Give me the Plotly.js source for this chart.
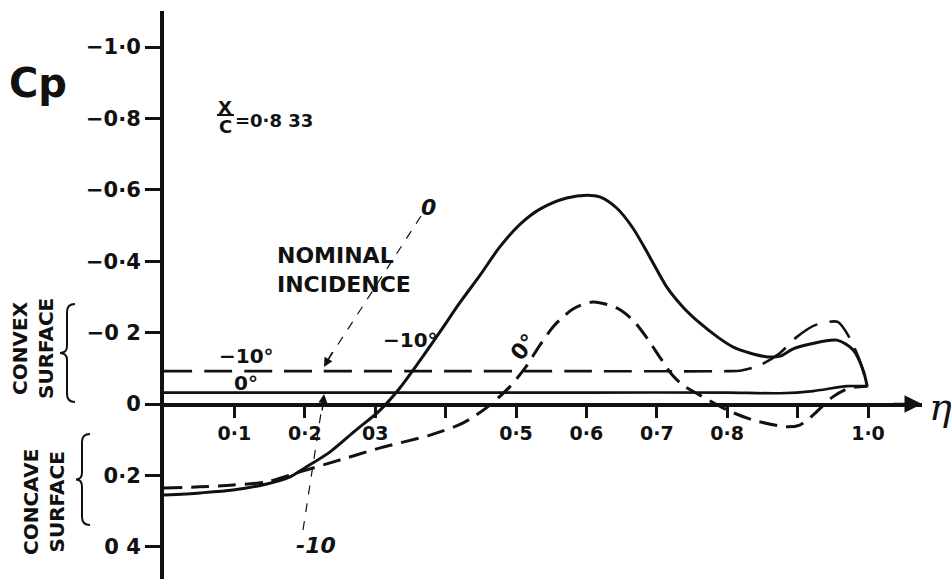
<!DOCTYPE html>
<html>
<head>
<meta charset="utf-8">
<script src="https://cdn.plot.ly/plotly-3.0.1.min.js"></script>
<style>html,body{margin:0;padding:0;background:#fff;}#chart{width:951px;height:579px;}</style>
</head>
<body>
<div id="chart"></div>
<script>
// ---- data ----
const xTickVals = [0.1, 0.2, 0.3, 0.4, 0.5, 0.6, 0.7, 0.8, 0.9, 1.0];
const xTickText = ["0·1", "0·2", "03", "", "0·5", "0·6", "0·7", "0·8", "", "1·0"];
const yTickVals = [-1.0, -0.8, -0.6, -0.4, -0.2, 0, 0.2, 0.4];
const yTickText = ["−1·0", "−0·8", "−0·6", "−0·4", "−0 2", "0", "0·2", "0 4"];

// solid curve, -10 deg
const m10SolidEta = [0, 0.051, 0.098, 0.146, 0.179, 0.2, 0.236, 0.271, 0.307, 0.335, 0.364, 0.392, 0.42, 0.449, 0.477, 0.506, 0.534, 0.572, 0.601, 0.619, 0.643, 0.666, 0.69, 0.714, 0.737, 0.761, 0.786, 0.808, 0.832, 0.857, 0.875, 0.893, 0.918, 0.956, 0.979, 0.993, 0.999];
const m10SolidCp  = [0.255, 0.249, 0.241, 0.224, 0.204, 0.179, 0.134, 0.076, 0.017, -0.045, -0.123, -0.202, -0.283, -0.361, -0.44, -0.504, -0.546, -0.577, -0.585, -0.58, -0.549, -0.493, -0.412, -0.328, -0.272, -0.227, -0.188, -0.16, -0.143, -0.132, -0.134, -0.154, -0.168, -0.179, -0.151, -0.095, -0.048];

// dashed curve, 0 deg
const zeroDashEta = [0, 0.051, 0.098, 0.146, 0.193, 0.236, 0.307, 0.378, 0.425, 0.463, 0.491, 0.513, 0.534, 0.555, 0.581, 0.609, 0.643, 0.666, 0.686, 0.705, 0.722, 0.737, 0.761, 0.8, 0.837, 0.885, 0.903, 0.922, 0.95, 0.974, 0.999];
const zeroDashCp  = [0.235, 0.232, 0.227, 0.218, 0.19, 0.165, 0.123, 0.087, 0.053, 0.003, -0.048, -0.101, -0.165, -0.221, -0.266, -0.286, -0.269, -0.235, -0.185, -0.129, -0.081, -0.053, -0.025, 0.017, 0.045, 0.064, 0.059, 0.031, -0.02, -0.045, -0.05];

// convex surface, 0 deg (solid, near-flat)
const zeroFlatEta = [0, 0.2, 0.4, 0.6, 0.8, 0.875, 0.922, 0.97, 0.999];
const zeroFlatCp  = [-0.032, -0.032, -0.032, -0.032, -0.032, -0.03, -0.036, -0.05, -0.05];

// convex surface, -10 deg (dashed, near-flat)
const m10FlatEta = [0, 0.2, 0.4, 0.6, 0.8, 0.82, 0.847, 0.875, 0.899, 0.925, 0.957, 0.974, 0.989, 0.999];
const m10FlatCp  = [-0.092, -0.092, -0.092, -0.092, -0.092, -0.094, -0.109, -0.143, -0.188, -0.221, -0.23, -0.185, -0.118, -0.05];

// ---- layout helpers (pixel -> paper) ----
const L = 164, R = 29, T = 11, B = 0, W = 951, H = 579;
const PW = W - L - R, PH = H - T - B;
const px = X => (X - L) / PW;
const py = Y => (H - B - Y) / PH;
const FONT = "DejaVu Sans";
const black = "#111";

function ann(text, X, Y, o) {
  o = o || {};
  return Object.assign({
    text: text, xref: "paper", yref: "paper", x: px(X), y: py(Y),
    showarrow: false, xanchor: "center", yanchor: "middle",
    font: {family: o.family || FONT, size: o.size || 20, color: black, weight: o.weight || "bold", style: o.style || "normal"}
  }, o.extra || {});
}
function arrowAnn(X, Y, ax, ay, o) {
  o = o || {};
  return {
    text: "", xref: "paper", yref: "paper", x: px(X), y: py(Y),
    showarrow: true, ax: ax, ay: ay, arrowhead: o.head || 2, arrowsize: o.size || 1.2,
    arrowwidth: o.width || 1.3, arrowcolor: black, standoff: 0
  };
}
function brace(xTip, xLine, xEnd, yTop, yBot) {
  const ym = (yTop + yBot) / 2;
  const P = (X, Y) => px(X).toFixed(5) + "," + py(Y).toFixed(5);
  return "M" + P(xEnd, yTop) + " Q" + P(xLine, yTop) + " " + P(xLine, yTop + 8) +
    " L" + P(xLine, ym - 7) + " Q" + P(xLine, ym) + " " + P(xTip, ym) +
    " Q" + P(xLine, ym) + " " + P(xLine, ym + 7) +
    " L" + P(xLine, yBot - 8) + " Q" + P(xLine, yBot) + " " + P(xEnd, yBot);
}
function seg(X0, Y0, X1, Y1, dash, width) {
  return {type: "line", xref: "paper", yref: "paper", x0: px(X0), y0: py(Y0), x1: px(X1), y1: py(Y1),
    line: {color: black, width: width || 1.2, dash: dash || "solid"}};
}

const traces = [
  {x: m10SolidEta, y: m10SolidCp, mode: "lines", line: {color: black, width: 3, shape: "spline", smoothing: 0.8}, hoverinfo: "skip"},
  {x: zeroDashEta, y: zeroDashCp, mode: "lines", line: {color: black, width: 3, shape: "spline", smoothing: 0.8, dash: "18px,9px"}, hoverinfo: "skip"},
  {x: zeroFlatEta, y: zeroFlatCp, mode: "lines", line: {color: black, width: 2.6, shape: "spline", smoothing: 0.6}, hoverinfo: "skip"},
  {x: m10FlatEta, y: m10FlatCp, mode: "lines", line: {color: black, width: 2.6, shape: "spline", smoothing: 0.7, dash: "28px,12px"}, hoverinfo: "skip"}
];

const yZero = (H - B - 404) / PH;

const layout = {
  width: W, height: H,
  margin: {l: L, r: R, t: T, b: B, pad: 0},
  paper_bgcolor: "#fff", plot_bgcolor: "#fff",
  showlegend: false,
  font: {family: FONT, color: black},
  xaxis: {
    range: [0, PW / 704], anchor: "free", position: yZero,
    showline: true, linewidth: 3.5, linecolor: black,
    ticks: "outside", ticklen: 11, tickwidth: 3, tickcolor: black,
    tickmode: "array", tickvals: xTickVals, ticktext: xTickText,
    tickfont: {family: FONT, size: 19, color: black, weight: "bold"},
    showgrid: false, zeroline: false, fixedrange: true
  },
  yaxis: {
    range: [(H - B - 404) / 357, -(404 - T) / 357],
    showline: true, linewidth: 4, linecolor: black,
    ticks: "outside", ticklen: 15, tickwidth: 3, tickcolor: black,
    tickmode: "array", tickvals: yTickVals, ticktext: yTickText,
    tickfont: {family: FONT, size: 21, color: black, weight: "bold"},
    showgrid: false, zeroline: false, fixedrange: true
  },
  shapes: [
    {type: "path", xref: "paper", yref: "paper", path: brace(60, 67, 75, 304, 402), line: {color: black, width: 2}},
    {type: "path", xref: "paper", yref: "paper", path: brace(76, 82, 90, 434, 525), line: {color: black, width: 2}},
    seg(217, 115, 234, 115, "solid", 2),
    seg(421, 216, 326, 363, "dash", 1.2),
    seg(303, 530, 323, 400, "dash", 1.2)
  ],
  annotations: [
    ann("Cp", 38, 83, {size: 40}),
    ann("X", 225, 107, {size: 18}),
    ann("C", 225, 127, {size: 18}),
    ann("=0·8 33", 233, 121, {size: 18, extra: {xanchor: "left"}}),
    ann("NOMINAL<br>INCIDENCE", 275, 270, {size: 22, extra: {xanchor: "left", align: "left"}}),
    ann("−10°", 246, 356, {size: 20}),
    ann("0°", 246, 383, {size: 20}),
    ann("−10°", 410, 340, {size: 20}),
    ann("0°", 523, 347, {size: 22, extra: {textangle: -50}}),
    ann("0", 428, 207, {size: 22, style: "italic"}),
    ann("-10", 316, 545, {size: 22, style: "italic"}),
    ann("η", 940, 407, {size: 38, weight: "normal", style: "italic", family: "DejaVu Serif"}),
    ann("CONVEX<br>SURFACE", 33, 349, {size: 20, extra: {textangle: -90}}),
    ann("CONCAVE<br>SURFACE", 44, 502, {size: 20, extra: {textangle: -90}}),
    arrowAnn(922, 404, -30, 0, {head: 2, size: 1.4, width: 2.5}),
    arrowAnn(324, 367, 9, -16, {head: 2, size: 1.3, width: 1.4}),
    arrowAnn(324, 394, -2, 18, {head: 2, size: 1.3, width: 1.4})
  ]
};

Plotly.newPlot("chart", traces, layout, {staticPlot: true, displayModeBar: false});
</script>
</body>
</html>
